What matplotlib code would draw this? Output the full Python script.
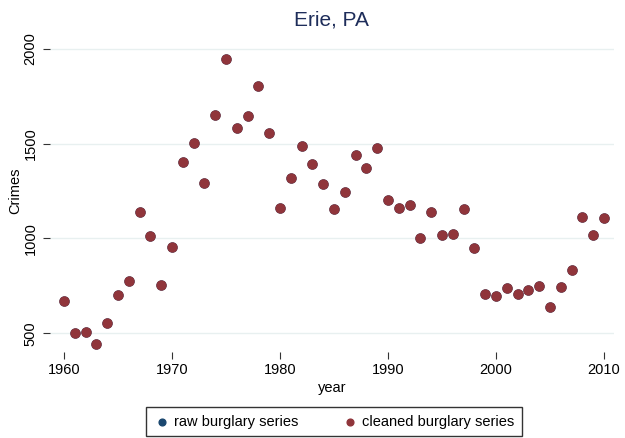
import matplotlib
matplotlib.use("Agg")
import matplotlib.pyplot as plt

years = list(range(1960, 2011))
cleaned = [670, 500, 505, 443, 553, 701, 775, 1139, 1013, 754,
           955, 1403, 1504, 1292, 1652, 1947, 1583, 1646, 1805, 1556,
           1160, 1319, 1488, 1393, 1287, 1155, 1245, 1440, 1372, 1477,
           1203, 1160, 1176, 1002, 1139, 1018, 1023, 1155, 949, 706,
           696, 738, 706, 727, 749, 638, 743, 833, 1113, 1018, 1108]
# raw series sits underneath the cleaned one (identical values)
raw = list(cleaned)

x_ticks = [1960, 1970, 1980, 1990, 2000, 2010]
y_ticks = [500, 1000, 1500, 2000]

plt.rcParams['font.family'] = ['Liberation Sans', 'DejaVu Sans']

fig = plt.figure(figsize=(6.25, 4.38), dpi=100)
ax = fig.add_axes([0.08, 0.196, 0.902, 0.736])

ax.scatter(years, raw, s=42, color="#1a476f", zorder=3, label="raw burglary series")
ax.scatter(years, cleaned, s=42, color="#90353b", zorder=4, label="cleaned burglary series")

ax.set_xlim(1958.7, 2010.9)
ax.set_ylim(400, 2100)
ax.set_xticks(x_ticks)
ax.set_yticks(y_ticks)
ax.set_yticklabels([str(v) for v in y_ticks], rotation=90, va="center")
ax.tick_params(axis="both", labelsize=10.5, length=5, width=0.8, color="#333333")
ax.tick_params(axis="y", pad=4)
ax.tick_params(axis="x", pad=3)
ax.grid(axis="y", color="#e8f0f0", linewidth=1)
ax.set_axisbelow(True)
for s in ax.spines.values():
    s.set_visible(False)

ax.set_xlabel("year", fontsize=10.5, labelpad=3)
ax.set_ylabel("Crimes", fontsize=10.5, labelpad=1)
ax.set_title("Erie, PA", fontsize=15, color="#1e2d5a", pad=1)

leg = fig.legend(loc="lower center", bbox_to_anchor=(0.534, -0.012), ncol=2,
                 fontsize=10.5, frameon=True, fancybox=False, edgecolor="black",
                 handletextpad=0.2, handlelength=1.2, columnspacing=3.0,
                 borderpad=0.5, markerscale=0.75)
leg.get_frame().set_linewidth(1.0)

fig.savefig("out.png", dpi=100, facecolor="white")
